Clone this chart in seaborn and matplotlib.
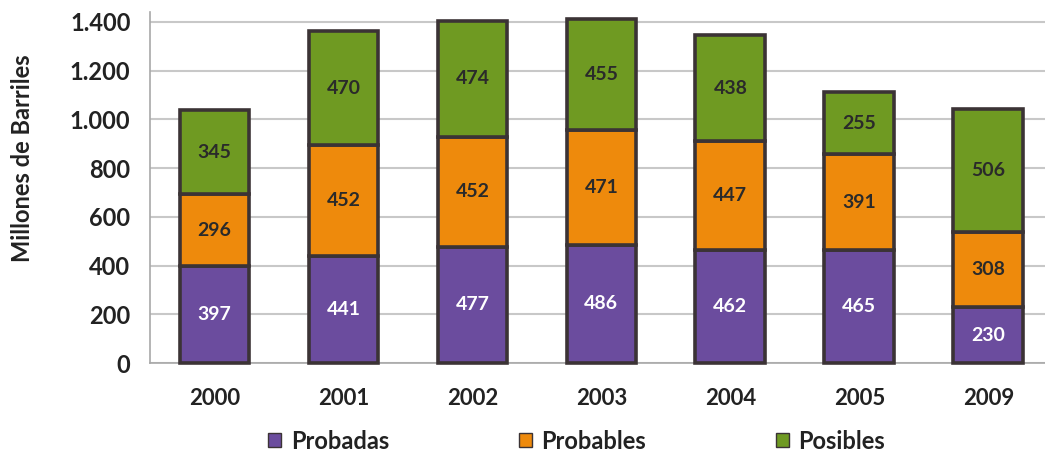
import matplotlib
matplotlib.use("Agg")
import matplotlib.pyplot as plt
import seaborn as sns
import numpy as np
import pandas as pd
from matplotlib.ticker import FuncFormatter
from matplotlib.patches import Patch

years = ["2000", "2001", "2002", "2003", "2004", "2005", "2009"]
probadas = [397, 441, 477, 486, 462, 465, 230]
probables = [296, 452, 452, 471, 447, 391, 308]
posibles = [345, 470, 474, 455, 438, 255, 506]
series_names = ["Probadas", "Probables", "Posibles"]
yticks = [0, 200, 400, 600, 800, 1000, 1200, 1400]

sns.set_theme(style="white")
plt.rcParams['font.family'] = ['Lato', 'DejaVu Sans']

colors = ["#6b4c9e", "#ee8a0c", "#6f9a22"]
text_colors = ["white", "#2a2a2a", "#2a2a2a"]

fig = plt.figure(figsize=(10.45, 4.62), dpi=100)
ax = fig.add_axes([0.1435, 0.214, 0.8565, 0.76])

bottom = np.zeros(len(years))
for name, vals, col, tcol in zip(series_names, [probadas, probables, posibles], colors, text_colors):
    df = pd.DataFrame({"year": years, "val": vals})
    sns.barplot(data=df, x="year", y="val", bottom=bottom, color=col, ax=ax,
                width=0.54, edgecolor="#3b3335", linewidth=2.6, saturation=1,
                zorder=3, clip_on=False)
    for i, v in enumerate(vals):
        ax.text(i, bottom[i] + v / 2, str(v), ha="center", va="center",
                fontsize=14, fontweight="bold", color=tcol, zorder=5)
    bottom = bottom + np.array(vals)

ax.set_xlim(-0.5, 6.44)
ax.set_ylim(0, 1440)
ax.set_yticks(yticks)
ax.yaxis.set_major_formatter(FuncFormatter(lambda v, p: f"{int(v):,}".replace(",", ".")))
ax.grid(axis="y", color="#c8c8c8", linewidth=1.5, zorder=0)
for s in ["top", "right"]:
    ax.spines[s].set_visible(False)
ax.spines["left"].set_color("#a8a8a8")
ax.spines["bottom"].set_color("#a8a8a8")
ax.spines["left"].set_linewidth(1.2)
ax.spines["bottom"].set_linewidth(1.2)
ax.tick_params(axis="y", labelsize=17, pad=14, length=0)
ax.tick_params(axis="x", labelsize=16, pad=18, length=0)
for lab in ax.get_xticklabels() + ax.get_yticklabels():
    lab.set_fontweight("bold")
    lab.set_color("#222222")
ax.set_xlabel("")
ax.set_ylabel("Millones de Barriles", fontsize=17, fontweight="bold", color="#222222")
ax.yaxis.set_label_coords(-0.129, 0.585)

handles = [Patch(facecolor=c, edgecolor="#3b3335", linewidth=1) for c in colors]
leg = fig.legend(handles, series_names, loc="center", bbox_to_anchor=(0.552, 0.045), ncol=3,
                 frameon=False, fontsize=17, handlelength=0.55, handleheight=0.55,
                 handletextpad=0.4, columnspacing=5.5)
for t in leg.get_texts():
    t.set_fontweight("bold")
    t.set_color("#222222")

fig.savefig("out.png", dpi=100)
